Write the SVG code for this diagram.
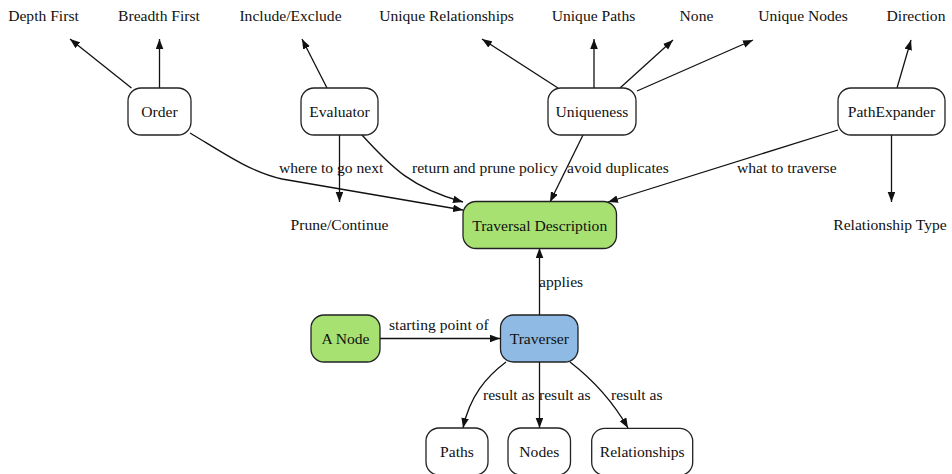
<svg xmlns="http://www.w3.org/2000/svg" width="952" height="474" viewBox="0 0 952 474">
<style>
text{font-family:"Liberation Serif","Times New Roman",serif;font-size:15.6px;fill:#111}
.c{text-anchor:middle}
.n{fill:#fff;stroke:#222;stroke-width:1.3}
.g{fill:#a6e172}
.b{fill:#8fbae3}
.e{fill:none;stroke:#111;stroke-width:1.3;marker-end:url(#ah)}
</style>
<defs>
<marker id="ah" markerUnits="userSpaceOnUse" markerWidth="11" markerHeight="8" refX="10" refY="3.8" orient="auto">
<path d="M0,0 L10,3.8 L0,7.6 z" fill="#111"/>
</marker>
</defs>
<rect width="952" height="474" fill="#fff"/>
<g id="connectors">
<path class="e" d="M131.5,88 L70,39"/>
<path class="e" d="M159.5,88 L159.5,39"/>
<path class="e" d="M327,88 L302,39"/>
<path class="e" d="M558,88 L482,39"/>
<path class="e" d="M594,88 L594,39"/>
<path class="e" d="M620,88 L673,40"/>
<path class="e" d="M637,91 L753,40"/>
<path class="e" d="M897,88 L911,40"/>
<path class="e" d="M891.5,135 L891.5,202"/>
<path class="e" d="M339.5,135 L339.5,202"/>
<path class="e" d="M190,133 C222,152 250,172 282,179 L463,210"/>
<path class="e" d="M362,135 C392,168 412,188 463,202"/>
<path class="e" d="M583,135 L550,202"/>
<path class="e" d="M838,130 L608,202"/>
<path class="e" d="M539.5,315 L539.5,248"/>
<path class="e" d="M380,338.5 L500,338.5"/>
<path class="e" d="M506,362 C486,377 470,396 463,428"/>
<path class="e" d="M539.5,362 L539.5,428"/>
<path class="e" d="M570,362 C592,379 612,400 628,428"/>
<text x="279" y="173">where to go next</text>
<text x="412" y="173">return and prune policy</text>
<text x="567" y="173">avoid duplicates</text>
<text x="737" y="173">what to traverse</text>
<text x="539" y="287">applies</text>
<text x="389" y="330">starting point of</text>
<text x="483" y="400">result as</text>
<text x="539" y="400">result as</text>
<text x="611" y="400">result as</text>
</g>
<g id="depth-first"><text class="c" x="43.5" y="21">Depth First</text></g>
<g id="breadth-first"><text class="c" x="159" y="21">Breadth First</text></g>
<g id="include-exclude"><text class="c" x="290.5" y="21">Include/Exclude</text></g>
<g id="unique-relationships"><text class="c" x="446.5" y="21">Unique Relationships</text></g>
<g id="unique-paths"><text class="c" x="593.5" y="21">Unique Paths</text></g>
<g id="none"><text class="c" x="696.5" y="21">None</text></g>
<g id="unique-nodes"><text class="c" x="803" y="21">Unique Nodes</text></g>
<g id="direction"><text class="c" x="916" y="21">Direction</text></g>
<g id="prune-continue"><text class="c" x="339.5" y="230">Prune/Continue</text></g>
<g id="relationship-type"><text class="c" x="890" y="230">Relationship Type</text></g>
<g id="order"><rect class="n" x="128" y="88" width="63" height="47" rx="13"/><text class="c" x="159.5" y="117">Order</text></g>
<g id="evaluator"><rect class="n" x="301" y="88" width="77" height="47" rx="13"/><text class="c" x="339.5" y="117">Evaluator</text></g>
<g id="uniqueness"><rect class="n" x="548" y="88" width="88" height="47" rx="13"/><text class="c" x="592" y="117">Uniqueness</text></g>
<g id="pathexpander"><rect class="n" x="838" y="88" width="107" height="47" rx="13"/><text class="c" x="891.5" y="117">PathExpander</text></g>
<g id="traversal-description"><rect class="n g" x="463" y="201.5" width="153.5" height="47" rx="13"/><text class="c" x="539.7" y="230.5">Traversal Description</text></g>
<g id="traverser"><rect class="n b" x="500.5" y="315" width="77.5" height="47" rx="13"/><text class="c" x="539.3" y="344">Traverser</text></g>
<g id="a-node"><rect class="n g" x="311" y="315" width="69" height="47" rx="13"/><text class="c" x="345.5" y="344">A Node</text></g>
<g id="paths"><rect class="n" x="426" y="428" width="62" height="47" rx="13"/><text class="c" x="457" y="457">Paths</text></g>
<g id="nodes"><rect class="n" x="508" y="428" width="62.5" height="47" rx="13"/><text class="c" x="539.3" y="457">Nodes</text></g>
<g id="relationships"><rect class="n" x="591.7" y="428.3" width="101" height="47" rx="13"/><text class="c" x="642.2" y="457">Relationships</text></g>
</svg>
